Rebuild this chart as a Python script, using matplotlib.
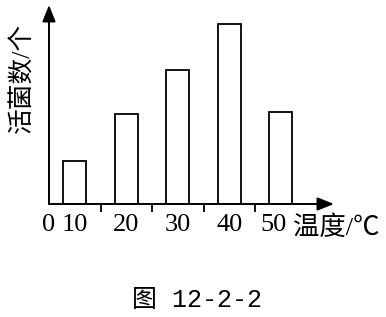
import matplotlib.pyplot as plt
from matplotlib.transforms import ScaledTranslation

# 数据
temps = ['10', '20', '30', '40', '50']
counts = [43, 90, 134, 180, 92]  # 活菌数（相对高度）
font_mix = ['Liberation Serif', 'Noto Sans CJK SC']

fig = plt.figure(figsize=(3.86, 3.17), dpi=100)
fig.patch.set_facecolor('white')
ax = fig.add_axes([49/386, 1-204/317, 285/386, 199/317])

pos = list(range(1, len(temps)+1))
ax.bar(pos, counts, width=0.45, facecolor='white', edgecolor='black', linewidth=1.3)
ax.set_xlim(0.5, 0.5+285/51.5)
ax.set_ylim(0, 199)

for s in ax.spines.values():
    s.set_visible(False)

# 坐标轴箭头
arrow = dict(arrowstyle='-|>,head_length=1.0,head_width=0.4', color='black', lw=1.4, shrinkA=0, shrinkB=0)
ax.annotate('', xy=(1, 0), xytext=(0, 0), xycoords='axes fraction', arrowprops=arrow)
ax.annotate('', xy=(0, 1), xytext=(0, 0), xycoords='axes fraction', arrowprops=arrow)

# 刻度
ax.set_xticks([0.5] + pos)
ax.set_xticklabels(['0'] + temps, fontsize=19, family=font_mix)
ax.tick_params(axis='x', which='major', length=0, pad=7)
ax.set_xticks([p+0.5 for p in pos[:-1]], minor=True)
ax.tick_params(axis='x', which='minor', length=6, width=1.3, direction='out')
ax.set_yticks([])
# 最后一个标签稍微左移，给单位留位置
last = ax.get_xticklabels()[-1]
last.set_transform(last.get_transform() + ScaledTranslation(-7/100, 0, fig.dpi_scale_trans))

fig.text(293/386, 1-228/317, '温度/℃', fontsize=19, family=font_mix, va='center', ha='left')
fig.text(22/386, 1-78/317, '活菌数/个', fontsize=18.5, family=font_mix, rotation=90, va='center', ha='center')
fig.text(197/386, 1-300/317, '图 12-2-2', fontsize=18, family=['Liberation Mono', 'Noto Sans CJK SC'], va='center', ha='center')

fig.savefig('out.png', dpi=100, facecolor='white')
